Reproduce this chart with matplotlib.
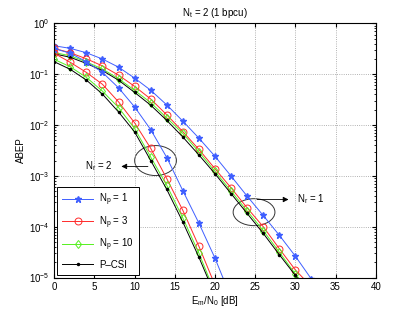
import matplotlib
matplotlib.use("Agg")
import matplotlib.pyplot as plt
from matplotlib.patches import Ellipse
import numpy as np

plt.rcParams['font.family'] = ['Liberation Sans', 'DejaVu Sans']
plt.rcParams['mathtext.fontset'] = 'custom'
plt.rcParams['mathtext.rm'] = 'Liberation Sans'
plt.rcParams['mathtext.it'] = 'Liberation Sans:italic'

# Em/N0 [dB]
snr_r1 = [0, 2, 4, 6, 8, 10, 12, 14, 16, 18, 20, 22, 24, 26, 28, 30, 32]
snr_r2 = [0, 2, 4, 6, 8, 10, 12, 14, 16, 18, 20]
snr_r2_np1 = [0, 2, 4, 6, 8, 10, 12, 14, 16, 18, 20, 22]

# Nr = 1
r1_np1 = [0.361, 0.321, 0.263, 0.198, 0.137, 0.0834, 0.0482, 0.0248, 0.0119, 5.5e-3,
          2.42e-3, 9.9e-4, 3.98e-4, 1.66e-4, 6.8e-5, 2.63e-5, 9.3e-6]
r1_np3 = [0.321, 0.263, 0.200, 0.145, 0.0955, 0.0575, 0.0324, 0.0158, 7.4e-3, 3.3e-3,
          1.38e-3, 5.8e-4, 2.34e-4, 1.0e-4, 3.7e-5, 1.41e-5, 6.6e-6]
r1_np10 = [0.266, 0.229, 0.174, 0.126, 0.0813, 0.0479, 0.0275, 0.0138, 6.8e-3, 2.95e-3,
           1.22e-3, 5.0e-4, 2.04e-4, 8.4e-5, 3.16e-5, 1.17e-5, 5.0e-6]
r1_pcsi = [0.251, 0.214, 0.162, 0.1175, 0.0759, 0.0437, 0.0245, 0.0123, 5.8e-3, 2.57e-3,
           1.10e-3, 4.47e-4, 1.82e-4, 7.4e-5, 2.82e-5, 1.10e-5, 4.5e-6]

# Nr = 2
r2_np1 = [0.318, 0.257, 0.175, 0.108, 0.0537, 0.0226, 8.1e-3, 2.29e-3, 5.1e-4, 1.17e-4,
          2.4e-5, 4.0e-6]
r2_np3 = [0.257, 0.170, 0.108, 0.063, 0.0284, 0.011, 3.47e-3, 8.8e-4, 2.09e-4, 4.1e-5, 7.1e-6]
r2_np10 = [0.195, 0.139, 0.0861, 0.0462, 0.022, 8.5e-3, 2.34e-3, 6.5e-4, 1.48e-4, 3.0e-5, 5.0e-6]
r2_pcsi = [0.175, 0.124, 0.0762, 0.0404, 0.018, 7.3e-3, 2.0e-3, 5.4e-4, 1.23e-4, 2.5e-5, 4.5e-6]

labels = [r'$\mathregular{N_p}$ = 1', r'$\mathregular{N_p}$ = 3',
          r'$\mathregular{N_p}$ = 10', 'P\u2013CSI']

blue = '#3f5fff'
red = '#ff2a2a'
green = '#55f020'
fs = 7

fig = plt.figure(figsize=(4.15, 3.13), dpi=100)
ax = fig.add_axes([0.1308, 0.1134, 0.7745, 0.8122])

lw = 0.7
ax.semilogy(snr_r1, r1_np1, color=blue, marker='*', ms=5, lw=lw, label=labels[0])
ax.semilogy(snr_r1, r1_np3, color=red, marker='o', ms=5, mfc='none', mew=0.7, lw=lw, label=labels[1])
ax.semilogy(snr_r1, r1_np10, color=green, marker='d', ms=4.5, mfc='none', mew=0.7, lw=lw, label=labels[2])
ax.semilogy(snr_r1, r1_pcsi, color='k', marker='.', ms=3, lw=lw, label=labels[3])

ax.semilogy(snr_r2_np1, r2_np1, color=blue, marker='*', ms=5, lw=lw)
ax.semilogy(snr_r2, r2_np3, color=red, marker='o', ms=5, mfc='none', mew=0.7, lw=lw)
ax.semilogy(snr_r2, r2_np10, color=green, marker='d', ms=4.5, mfc='none', mew=0.7, lw=lw)
ax.semilogy(snr_r2, r2_pcsi, color='k', marker='.', ms=3, lw=lw)

ax.set_xlim(0, 40)
ax.set_ylim(1e-5, 1)
ax.set_xticks(range(0, 41, 5))
ax.grid(True, which='major', ls=':', color='#999999', lw=0.6)
ax.tick_params(which='both', direction='in', top=True, right=True, labelsize=fs)
ax.tick_params(which='major', length=3)
ax.tick_params(which='minor', length=1.5)
for s in ax.spines.values():
    s.set_linewidth(0.8)

ax.set_title(r'$\mathregular{N_t}$ = 2 (1 bpcu)', fontsize=fs, pad=5)
ax.set_xlabel(r'$\mathregular{E_m/N_0}$ [dB]', fontsize=fs, labelpad=1)
ax.set_ylabel('ABEP', fontsize=fs, labelpad=2)

# annotations (ellipses in axes fraction)
ax.add_patch(Ellipse((0.315, 0.46), 0.13, 0.118, transform=ax.transAxes,
                     fill=False, ec='#333333', lw=0.7))
ax.add_patch(Ellipse((0.6215, 0.257), 0.13, 0.106, transform=ax.transAxes,
                     fill=False, ec='#333333', lw=0.7))
ax.annotate('', xy=(8.0, 10**-2.815), xytext=(12.0, 10**-2.815),
            arrowprops=dict(arrowstyle='-|>', color='k', lw=0.6, mutation_scale=8))
ax.text(7.3, 10**-2.815, r'$\mathregular{N_r}$ = 2', fontsize=fs, ha='right', va='center')
ax.annotate('', xy=(29.5, 10**-3.466), xytext=(24.9, 10**-3.466),
            arrowprops=dict(arrowstyle='-|>', color='k', lw=0.6, mutation_scale=8))
ax.text(30.2, 10**-3.466, r'$\mathregular{N_r}$ = 1', fontsize=fs, ha='left', va='center')

leg = ax.legend(loc='lower left', fontsize=fs, handlelength=3.2, borderpad=0.5,
                labelspacing=0.65, handletextpad=0.6, fancybox=False, framealpha=1,
                edgecolor='k', borderaxespad=0.3)
leg.get_frame().set_linewidth(0.7)

fig.savefig('out.png', dpi=100)
